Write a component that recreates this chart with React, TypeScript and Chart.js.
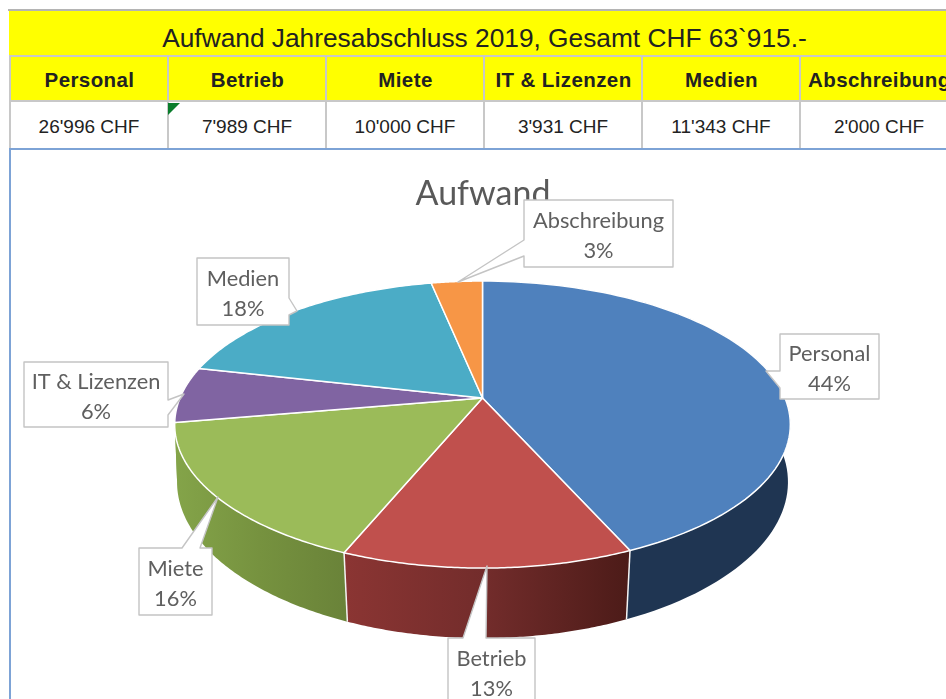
import React, { useEffect, useRef } from "react";
import { Chart, registerables } from "chart.js";

Chart.register(...registerables);

const tableTitle = "Aufwand Jahresabschluss 2019, Gesamt CHF 63`915.-";
const chartTitle = "Aufwand";
const categories = ["Personal", "Betrieb", "Miete", "IT & Lizenzen", "Medien", "Abschreibung"];
const amounts = [26996, 7989, 10000, 3931, 11343, 2000];
const amountLabels = ["26'996 CHF", "7'989 CHF", "10'000 CHF", "3'931 CHF", "11'343 CHF", "2'000 CHF"];
const percentLabels = ["44%", "13%", "16%", "6%", "18%", "3%"];
const sliceColors = ["#4f81bd", "#c0504d", "#9bbb59", "#8064a2", "#4bacc6", "#f79646"];

// page-to-canvas offset and the 3D projection of the pie
const OX = 10, OY = 150;
const CX = 482.5 - OX, CY = 398 - OY, SX = 302.5, SY = 138.6, PERSP = 0.185;

const wallStops: (string[] | null)[] = [
  ["#1f3552", "#1f3552"],
  ["#8b3533", "#722c2b", "#4c1b18"],
  ["#84a449", "#76923f", "#6a8339"],
  ["#84a449", "#84a449"],
  null, null,
];

// callout layout in page pixels: box x0,y0,x1,y1, tail a, tip, tail b
const callouts = [
  { box: [780, 334, 879, 399], side: "l", a: 371, tip: [766, 371], b: 388 },
  { box: [448, 638, 535, 712], side: "t", a: 463, tip: [487, 566], b: 486 },
  { box: [139, 548, 212, 615], side: "t", a: 182, tip: [218, 497], b: 200 },
  { box: [24, 362, 168, 427], side: "r", a: 400, tip: [184, 394], b: 415 },
  { box: [197, 258, 289, 325], side: "r", a: 298, tip: [297, 311], b: 315 },
  { box: [524, 200, 673, 267], side: "l", a: 240, tip: [458, 282], b: 256 },
];

const top = (t: number) => {
  const u = Math.cos(t), v = Math.sin(t), w = 1 - PERSP * v;
  return [CX + (SX * u) / w, CY + (SY * v) / w];
};
const bottom = (t: number) => {
  const [x, y] = top(t);
  const v = Math.sin(t);
  return [CX + (x - CX) * (0.993 - 0.02 * v * v), y + 56 + 14 * v];
};

const perspectivePie = {
  id: "perspectivePie",
  beforeDatasetsDraw(chart: any) {
    const ctx: CanvasRenderingContext2D = chart.ctx;
    const arcs = chart.getDatasetMeta(0).data;
    const ds = chart.data.datasets[0];
    const N = 90;
    ctx.save();
    ctx.lineJoin = "round";

    // side walls
    arcs.forEach((arc: any, i: number) => {
      const stops = wallStops[i];
      if (!stops) return;
      const s = arc.startAngle, e = arc.endAngle;
      ctx.beginPath();
      for (let k = 0; k <= N; k++) {
        const p = top(s + ((e - s) * k) / N);
        k ? ctx.lineTo(p[0], p[1]) : ctx.moveTo(p[0], p[1]);
      }
      for (let k = N; k >= 0; k--) {
        const p = bottom(s + ((e - s) * k) / N);
        ctx.lineTo(p[0], p[1]);
      }
      ctx.closePath();
      const x0 = Math.min(top(s)[0], top(e)[0]);
      const x1 = Math.max(top(s)[0], top(e)[0]);
      const g = ctx.createLinearGradient(x0, 0, x1, 0);
      stops.forEach((c, j) => g.addColorStop(j / (stops.length - 1), c));
      ctx.fillStyle = g;
      ctx.fill();
    });
    // wall edges
    ctx.strokeStyle = "#f4f4f4";
    ctx.lineWidth = 1.5;
    arcs.slice(0, 2).forEach((arc: any) => {
      const a = top(arc.endAngle), b = bottom(arc.endAngle);
      ctx.beginPath();
      ctx.moveTo(a[0], a[1]);
      ctx.lineTo(b[0], b[1]);
      ctx.stroke();
    });
    // top faces
    arcs.forEach((arc: any, i: number) => {
      const s = arc.startAngle, e = arc.endAngle;
      ctx.beginPath();
      ctx.moveTo(CX, CY);
      for (let k = 0; k <= N; k++) {
        const p = top(s + ((e - s) * k) / N);
        ctx.lineTo(p[0], p[1]);
      }
      ctx.closePath();
      ctx.fillStyle = ds.backgroundColor[i];
      ctx.fill();
      ctx.strokeStyle = ds.borderColor;
      ctx.lineWidth = ds.borderWidth;
      ctx.stroke();
    });

    // callouts
    callouts.forEach((c, i) => {
      const [x0, y0, x1, y1] = c.box.map((v, j) => v - (j % 2 ? OY : OX));
      const tx = c.tip[0] - OX, ty = c.tip[1] - OY;
      ctx.beginPath();
      ctx.moveTo(x0, y0);
      if (c.side === "t") {
        ctx.lineTo(c.a - OX, y0);
        ctx.lineTo(tx, ty);
        ctx.lineTo(c.b - OX, y0);
      }
      ctx.lineTo(x1, y0);
      if (c.side === "r") {
        ctx.lineTo(x1, c.a - OY);
        ctx.lineTo(tx, ty);
        ctx.lineTo(x1, c.b - OY);
      }
      ctx.lineTo(x1, y1);
      ctx.lineTo(x0, y1);
      if (c.side === "l") {
        ctx.lineTo(x0, c.b - OY);
        ctx.lineTo(tx, ty);
        ctx.lineTo(x0, c.a - OY);
      }
      ctx.closePath();
      ctx.fillStyle = "#ffffff";
      ctx.fill();
      ctx.strokeStyle = "#c4c4c4";
      ctx.lineWidth = 1.4;
      ctx.stroke();

      const cx = (x0 + x1) / 2;
      const cy = i === 1 ? 674 - OY : (y0 + y1) / 2 + 2.5;
      ctx.fillStyle = "#5f5f5f";
      ctx.font = '21.8px Lato, "Open Sans", sans-serif';
      ctx.textAlign = "center";
      ctx.textBaseline = "middle";
      ctx.fillText(chart.data.labels[i], cx, cy - 15);
      ctx.fillText(percentLabels[i], cx, cy + 15);
    });
    ctx.restore();
    return false;
  },
};

const cellBase: React.CSSProperties = {
  position: "absolute",
  boxSizing: "border-box",
  display: "flex",
  alignItems: "center",
  justifyContent: "center",
  whiteSpace: "nowrap",
  fontFamily: '"Liberation Sans", Arial, sans-serif',
  color: "#222222",
};
const COL_X = [9, 167, 325, 483, 641, 799];
const COL_W = 158;

export default function App() {
  const ref = useRef<HTMLCanvasElement>(null);
  useEffect(() => {
    const chart = new Chart(ref.current!, {
      type: "pie",
      data: {
        labels: categories,
        datasets: [
          {
            data: amounts,
            backgroundColor: sliceColors,
            borderColor: "#ffffff",
            borderWidth: 1.5,
          },
        ],
      },
      plugins: [perspectivePie],
      options: {
        animation: false,
        responsive: false,
        rotation: 0,
        layout: { padding: { left: 10 } },
        plugins: {
          legend: { display: false },
          tooltip: { enabled: false },
          title: {
            display: true,
            text: chartTitle,
            color: "#595959",
            font: { family: "Lato, sans-serif", size: 34, weight: "normal" },
            padding: { top: 24, bottom: 0 },
          },
        },
      },
    } as any);
    return () => chart.destroy();
  }, []);

  return (
    <div style={{ position: "absolute", left: 0, top: 0, width: 946, height: 699, overflow: "hidden", background: "#fff", filter: "blur(0.5px)" }}>
      {/* frame lines */}
      <div style={{ position: "absolute", left: 8, top: 9, width: 938, height: 2, background: "#b4b4b4" }} />
      <div style={{ ...cellBase, left: 9, top: 11, width: 937, height: 44, background: "#ffff00", fontSize: 26.3, paddingTop: 10 }}>
        <span style={{ position: "relative", left: 7 }}>{tableTitle}</span>
      </div>
      <div style={{ position: "absolute", left: 9, top: 55, width: 937, height: 2, background: "#c8c8c8" }} />
      {categories.map((c, i) => (
        <div
          key={c}
          style={{
            ...cellBase,
            left: COL_X[i],
            top: 57,
            width: COL_W,
            height: 45,
            background: "#ffff00",
            fontWeight: 700,
            fontSize: 20.5,
            letterSpacing: 0.4,
            paddingTop: 2,
            justifyContent: i === 5 ? "flex-start" : "center",
            paddingLeft: i === 5 ? 7 : 1,
            borderLeft: "2px solid #c8c8c8",
            borderBottom: "2px solid #c8c8c8",
            overflow: "hidden",
          }}
        >
          {c}
        </div>
      ))}
      {amountLabels.map((v, i) => (
        <div
          key={v}
          style={{
            ...cellBase,
            left: COL_X[i],
            top: 102,
            width: COL_W,
            height: 46,
            background: "#fff",
            fontSize: 19,
            paddingTop: 4,
            borderLeft: "2px solid #c8c8c8",
          }}
        >
          {v}
        </div>
      ))}
      <div style={{ position: "absolute", left: 168, top: 103, width: 0, height: 0, borderTop: "12px solid #0a7d2c", borderRight: "12px solid transparent" }} />
      <div style={{ position: "absolute", left: 9, top: 148, width: 937, height: 2, background: "#7da3d6" }} />
      <div style={{ position: "absolute", left: 9, top: 148, width: 2, height: 551, background: "#7da3d6" }} />
      <canvas ref={ref} width={936} height={549} style={{ position: "absolute", left: OX, top: OY, display: "block" }} />
    </div>
  );
}
